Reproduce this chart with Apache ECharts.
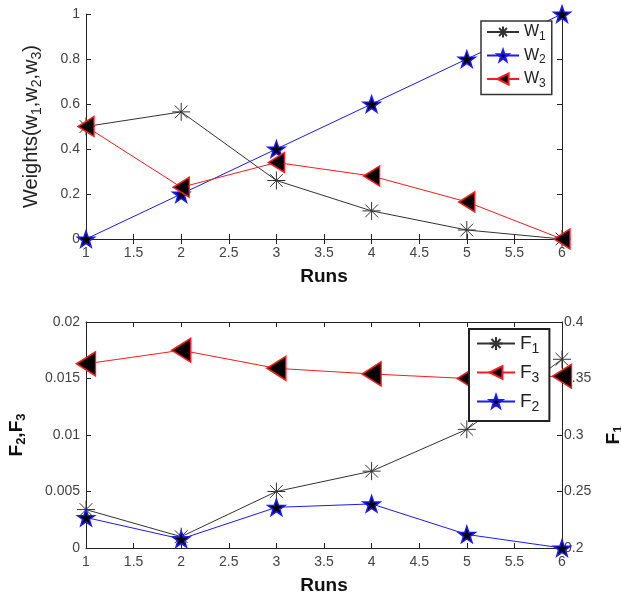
<!DOCTYPE html>
<html>
<head>
<meta charset="utf-8">
<script src="https://cdn.jsdelivr.net/npm/echarts@6/dist/echarts.min.js"></script>
<style>
  html, body { margin: 0; padding: 0; background: #fff; }
  #chart { width: 621px; height: 594px; }
</style>
</head>
<body>
<div id="chart"></div>
<script>
// runs on the x axis
var runs = [1, 2, 3, 4, 5, 6]
// top panel: weights
var w1 = [0.5, 0.565, 0.26, 0.125, 0.04, 0.0]
var w2 = [0.0, 0.2, 0.4, 0.6, 0.8, 1.0]
var w3 = [0.5, 0.23, 0.34, 0.28, 0.165, 0.0]
// bottom panel: F2, F3 on left axis, F1 on right axis
var f1 = [0.234, 0.21, 0.25, 0.268, 0.305, 0.367]
var f2 = [0.0027, 0.0008, 0.0036, 0.0039, 0.0012, 0.0]
var f3 = [0.0163, 0.0175, 0.0159, 0.0154, 0.0150, 0.0152]

var STAR = 'path://M0 -10L2.35 -3.24L9.51 -3.09L3.8 1.24L5.88 8.09L0 4L-5.88 8.09L-3.8 1.24L-9.51 -3.09L-2.35 -3.24Z'
var ASTER = 'path://M0 -10L0 10M-10 0L10 0M-7.07 -7.07L7.07 7.07M-7.07 7.07L7.07 -7.07'

function pairs (ys) {
  return runs.map(function (x, i) { return [x, ys[i]] })
}

var FONT = 'Liberation Sans'
var wRich = {
  b: { fontSize: 20, color: '#222', fontFamily: FONT },
  s: { fontSize: 14, color: '#222', fontFamily: FONT, padding: [11, 0, 0, 0] }
}
var fRich = {
  b: { fontSize: 19, fontWeight: 'bold', color: '#111', fontFamily: FONT },
  s: { fontSize: 13, fontWeight: 'bold', color: '#111', fontFamily: FONT, padding: [10, 0, 0, 0] }
}
var legRich = {
  n: { fontSize: 16, color: '#222', fontFamily: FONT },
  s: { fontSize: 12, color: '#222', fontFamily: FONT, padding: [9, 0, 0, 0] }
}
var legRich2 = {
  n: { fontSize: 19, color: '#222', fontFamily: FONT },
  s: { fontSize: 14, color: '#222', fontFamily: FONT, padding: [11, 0, 0, 0] }
}

var tickLbl = { color: '#444', fontSize: 14, fontFamily: FONT }
var axLine = { show: true, lineStyle: { color: '#222', width: 1 } }
var axTick = { show: true, inside: true, length: 5, lineStyle: { color: '#222' } }

function xAx (grid, pos, labels) {
  return {
    type: 'value', gridIndex: grid, position: pos, min: 1, max: 6, interval: 0.5,
    axisLine: axLine, axisTick: axTick, splitLine: { show: false },
    axisLabel: labels ? Object.assign({ margin: 7 }, tickLbl) : { show: false },
    name: labels ? 'Runs' : '', nameLocation: 'middle', nameGap: 28,
    nameTextStyle: { fontSize: 19, fontWeight: 'bold', color: '#111', fontFamily: FONT }
  }
}

function lineSeries (name, x, y, data, kind, color, size) {
  var s = {
    name: name, type: 'line', xAxisIndex: x, yAxisIndex: y, data: data,
    lineStyle: { color: color, width: 1 }, symbolKeepAspect: true, z: 3
  }
  if (kind === 'aster') {
    s.symbol = ASTER; s.symbolSize = size
    s.itemStyle = { color: '#000', borderColor: '#333', borderWidth: 1 }
  } else if (kind === 'star') {
    s.symbol = STAR; s.symbolSize = size
    s.itemStyle = { color: '#000', borderColor: color, borderWidth: 1.5 }
  } else {
    s.symbol = 'triangle'; s.symbolRotate = 90; s.symbolSize = size
    s.itemStyle = { color: '#000', borderColor: color, borderWidth: 1.5 }
  }
  return s
}

var chart = echarts.init(document.getElementById('chart'))
var option = {
  animation: false,
  backgroundColor: '#fff',
  grid: [
    { left: 86, right: 59, top: 14, height: 225, outerBoundsMode: 'none', containLabel: false },
    { left: 86, right: 59, top: 322, height: 226, outerBoundsMode: 'none', containLabel: false }
  ],
  xAxis: [
    xAx(0, 'bottom', true), xAx(0, 'top', false),
    xAx(1, 'bottom', true), xAx(1, 'top', false)
  ],
  yAxis: [
    {
      type: 'value', gridIndex: 0, min: 0, max: 1, interval: 0.2, position: 'left',
      axisLine: axLine, axisTick: axTick, splitLine: { show: false },
      axisLabel: Object.assign({ margin: 6 }, tickLbl),
      name: '{b|Weights(w}{s|1}{b|,w}{s|2}{b|,w}{s|3}{b|)}', nameLocation: 'middle', nameGap: 42,
      nameRotate: 90, nameTextStyle: { rich: wRich }
    },
    {
      type: 'value', gridIndex: 0, min: 0, max: 1, interval: 0.2, position: 'right',
      axisLine: axLine, axisTick: axTick, splitLine: { show: false }, axisLabel: { show: false }
    },
    {
      type: 'value', gridIndex: 1, min: 0, max: 0.02, interval: 0.005, position: 'left',
      axisLine: axLine, axisTick: axTick, splitLine: { show: false },
      axisLabel: Object.assign({ margin: 6 }, tickLbl),
      name: '{b|F}{s|2}{b|,F}{s|3}', nameLocation: 'middle', nameGap: 58,
      nameRotate: 90, nameTextStyle: { rich: fRich }
    },
    {
      type: 'value', gridIndex: 1, min: 0.2, max: 0.4, interval: 0.05, position: 'right',
      axisLine: axLine, axisTick: axTick, splitLine: { show: false },
      axisLabel: Object.assign({ margin: 2 }, tickLbl),
      name: '{b|F}{s|1}', nameLocation: 'middle', nameGap: 40,
      nameRotate: 90, nameTextStyle: { rich: fRich }
    }
  ],
  legend: [
    {
      orient: 'vertical', left: 481, top: 21,
      backgroundColor: '#fff', borderColor: '#333', borderWidth: 1.5,
      padding: [3, 6, 5, 5], itemGap: 5, itemWidth: 32, itemHeight: 14,
      data: ['W1', 'W2', 'W3'],
      formatter: function (n) { return '{n|W}{s|' + n.slice(1) + '}' },
      textStyle: { rich: legRich }
    },
    {
      orient: 'vertical', left: 469, top: 329,
      backgroundColor: '#fff', borderColor: '#222', borderWidth: 2,
      padding: [5, 10, 7, 7], itemGap: 7, itemWidth: 38, itemHeight: 16,
      data: ['F1', 'F3', 'F2'],
      formatter: function (n) { return '{n|F}{s|' + n.slice(1) + '}' },
      textStyle: { rich: legRich2 }
    }
  ],
  series: [
    lineSeries('W1', 0, 0, pairs(w1), 'aster', '#333', 18),
    lineSeries('W2', 0, 0, pairs(w2), 'star', '#1a1aff', 17),
    lineSeries('W3', 0, 0, pairs(w3), 'tri', '#ff1a1a', [20, 16]),
    lineSeries('F1', 2, 3, pairs(f1), 'aster', '#333', 18),
    lineSeries('F3', 2, 2, pairs(f3), 'tri', '#ff1a1a', [24, 19]),
    lineSeries('F2', 2, 2, pairs(f2), 'star', '#1a1aff', 17)
  ]
}
chart.setOption(option)
</script>
</body>
</html>
